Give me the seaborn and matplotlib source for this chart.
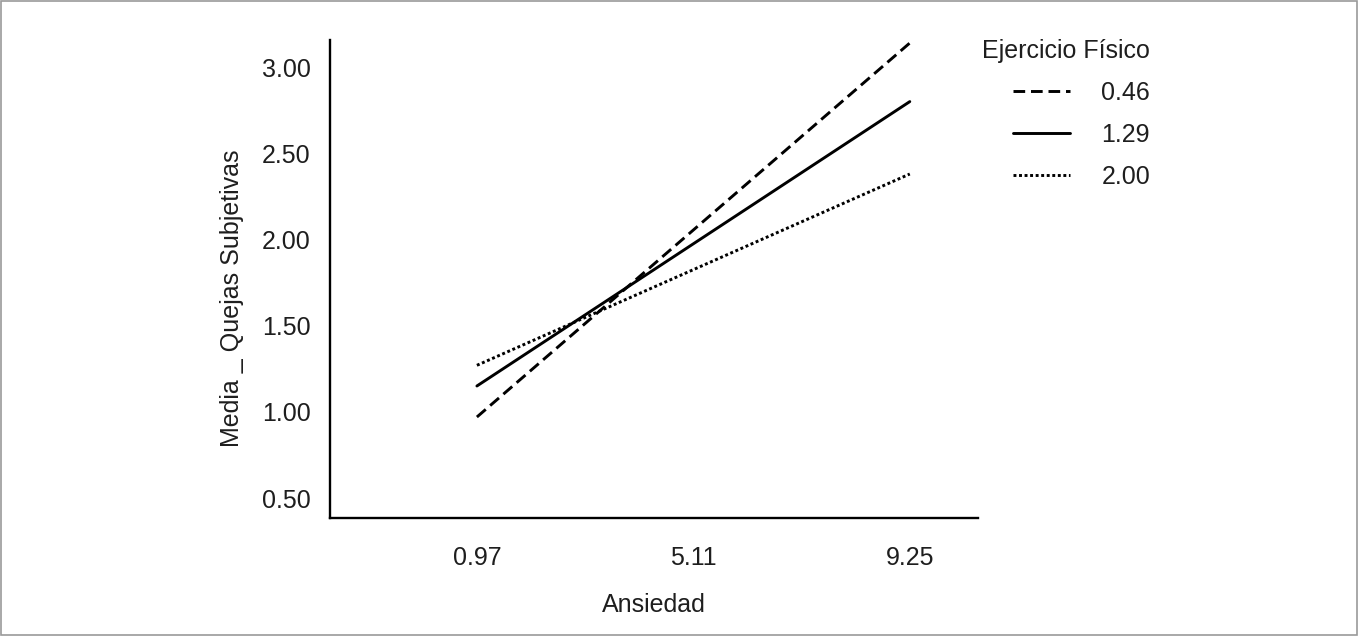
import matplotlib
matplotlib.use("Agg")
import matplotlib.pyplot as plt
import pandas as pd
import seaborn as sns
from matplotlib.patches import Rectangle

# data
ansiedad = [0.97, 9.25]
grupos = ["0.46", "1.29", "2.00"]
quejas_046 = [0.97, 3.14]
quejas_129 = [1.15, 2.80]
quejas_200 = [1.27, 2.38]
y_ticks = [0.50, 1.00, 1.50, 2.00, 2.50, 3.00]
x_ticks = [0.97, 5.11, 9.25]

df = pd.DataFrame({
    "Ansiedad": ansiedad * 3,
    "Quejas": quejas_046 + quejas_129 + quejas_200,
    "Ejercicio Físico": [g for g in grupos for _ in ansiedad],
})

sns.set_theme(style="white")
plt.rcParams["font.family"] = ["Liberation Sans", "DejaVu Sans"]
text_col = "#1e1e1e"

fig = plt.figure(figsize=(13.58, 6.36), dpi=100)
ax = fig.add_axes([0.243, 0.1855, 0.477, 0.7515])

sns.lineplot(
    data=df, x="Ansiedad", y="Quejas", style="Ejercicio Físico",
    style_order=grupos,
    dashes={"0.46": (4, 2), "1.29": "", "2.00": (1, 0.9)},
    color="black", linewidth=2.1, ax=ax,
)

ax.set_xlim(-1.84, 10.55)
ax.set_ylim(0.384, 3.157)
ax.set_xticks(x_ticks)
ax.set_xticklabels([f"{v:.2f}" for v in x_ticks])
ax.set_yticks(y_ticks)
ax.set_yticklabels([f"{v:.2f}" for v in y_ticks])
ax.tick_params(axis="x", length=0, pad=20, labelsize=18, labelcolor=text_col)
ax.tick_params(axis="y", length=0, pad=14, labelsize=18, labelcolor=text_col)

ax.set_xlabel("Ansiedad", fontsize=18, color=text_col, labelpad=17)
ax.set_ylabel("Media _ Quejas Subjetivas", fontsize=18, color=text_col)
ax.yaxis.set_label_coords(-0.132, 0.46)

for side in ["top", "right"]:
    ax.spines[side].set_visible(False)
for side in ["left", "bottom"]:
    ax.spines[side].set_color("black")
    ax.spines[side].set_linewidth(1.7)

handles, labels = ax.get_legend_handles_labels()
ax.legend(
    handles, labels, title="Ejercicio Físico", frameon=False,
    loc="upper left", bbox_to_anchor=(0.716, 0.955), bbox_transform=fig.transFigure,
    fontsize=18, title_fontsize=18, handlelength=2.3, handletextpad=1.25,
    labelspacing=0.72, borderaxespad=0, alignment="right",
)
ax.get_legend().get_title().set_color(text_col)
for t in ax.get_legend().get_texts():
    t.set_color(text_col)

# thin frame around the whole picture
fig.patches.append(Rectangle((0.0005, 0.001), 0.999, 0.998, transform=fig.transFigure,
                             fill=False, edgecolor="#9a9a9a", linewidth=1.2))

fig.savefig("out.png", dpi=100)
